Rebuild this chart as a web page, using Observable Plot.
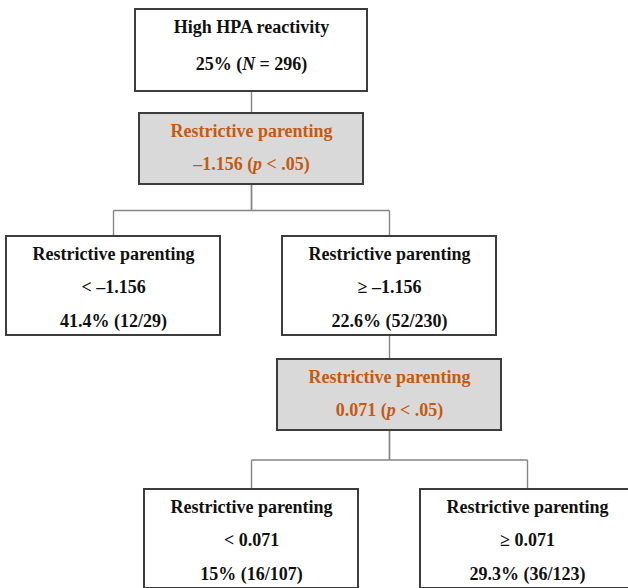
<!DOCTYPE html>
<html>
<head>
<meta charset="utf-8">
<script src="https://cdn.jsdelivr.net/npm/d3@7"></script>
<script src="https://cdn.jsdelivr.net/npm/@observablehq/plot@0.6"></script>
<style>
  html, body { margin: 0; padding: 0; background: #fff; overflow: hidden; }
  #chart svg { display: block; }
</style>
</head>
<body>
<div id="chart"></div>
<script>
// ---------- DATA (tree structure and labels) ----------
const nodeIds     = ["root", "s1", "l1", "r1", "s2", "l2", "r2"];
const nodeParents = [null, "root", "s1", "s1", "r1", "s2", "s2"];
const nodeBranch  = [0, 0, -1, 1, 0, -1, 1];          // -1 = "<" branch, +1 = "≥" branch
const nodeKinds   = ["root", "split", "leaf", "leaf", "split", "leaf", "leaf"];
const nodeLines   = [
  ["High HPA reactivity", "25% (N = 296)"],
  ["Restrictive parenting", "–1.156 (p < .05)"],
  ["Restrictive parenting", "< –1.156", "41.4% (12/29)"],
  ["Restrictive parenting", "≥ –1.156", "22.6% (52/230)"],
  ["Restrictive parenting", "0.071 (p < .05)"],
  ["Restrictive parenting", "< 0.071", "15% (16/107)"],
  ["Restrictive parenting", "≥ 0.071", "29.3% (36/123)"]
];

// ---------- LAYOUT (derived from the tree structure) ----------
const W = 628, H = 588;
const levelTop = [9, 113, 236, 359, 489];
const kindWidth  = {root: 232, split: 224, leaf: 214};
const kindHeight = {root: 82, split: 71, leaf: 99};
const kindLineGap = {root: 37, split: 33, leaf: 33.5};
const rootCenter = 251, branchOffset = 138;

const byId = new Map();
const nodes = nodeIds.map((id, i) => {
  const parent = nodeParents[i] ? byId.get(nodeParents[i]) : null;
  const depth = parent ? parent.depth + 1 : 0;
  const cx = parent ? parent.cx + nodeBranch[i] * branchOffset : rootCenter;
  const kind = nodeKinds[i];
  const w = kindWidth[kind], h = kindHeight[kind];
  const top = levelTop[depth];
  const n = {id, parent, depth, cx, kind, x1: cx - w / 2, x2: cx + w / 2, y1: top, y2: top + h, lines: nodeLines[i], branch: nodeBranch[i]};
  byId.set(id, n);
  return n;
});

// connector segments
const segments = [];
for (const n of nodes) {
  const p = n.parent;
  if (!p) continue;
  if (n.branch === 0) {
    segments.push({x1: n.cx, y1: p.y2, x2: n.cx, y2: n.y1});
  } else {
    const barY = (p.y2 + n.y1) / 2;
    segments.push({x1: p.cx, y1: p.y2, x2: p.cx, y2: barY});
    segments.push({x1: p.cx, y1: barY, x2: n.cx, y2: barY});
    segments.push({x1: n.cx, y1: barY, x2: n.cx, y2: n.y1});
  }
}

// text lines
const texts = nodes.flatMap(n => n.lines.map((t, i) => ({
  x: n.cx,
  y: n.y1 + 17.5 + i * kindLineGap[n.kind],
  text: t,
  kind: n.kind
})));

const chart = Plot.plot({
  width: W,
  height: H,
  margin: 0,
  x: {domain: [0, W], range: [0, W], axis: null},
  y: {domain: [0, H], range: [0, H], axis: null},
  marks: [
    Plot.link(segments, {x1: "x1", y1: "y1", x2: "x2", y2: "y2", stroke: "#858585", strokeWidth: 1.4}),
    Plot.rect(nodes, {x1: "x1", x2: "x2", y1: "y1", y2: "y2",
      fill: d => d.kind === "split" ? "#d9d9d9" : "#ffffff",
      stroke: "#3d3d3d", strokeWidth: 2}),
    Plot.text(texts.filter(d => d.kind !== "split"), {x: "x", y: "y", text: "text",
      fill: "#111111", fontFamily: "Liberation Serif", fontWeight: "bold", fontSize: 18}),
    Plot.text(texts.filter(d => d.kind === "split"), {x: "x", y: "y", text: "text",
      fill: "#c55a11", fontFamily: "Liberation Serif", fontWeight: "bold", fontSize: 18})
  ]
});

// italicize statistical symbols (N, p)
d3.select(chart).selectAll("g[aria-label='text'] text").each(function() {
  const el = d3.select(this);
  const s = el.text();
  const parts = s.split(/\b([Np])\b/);
  if (parts.length === 1) return;
  el.text(null);
  parts.forEach((part, i) => {
    if (!part) return;
    const t = el.append("tspan").text(part);
    if (i % 2 === 1) t.attr("font-style", "italic");
  });
});

document.getElementById("chart").appendChild(chart);
</script>
</body>
</html>
